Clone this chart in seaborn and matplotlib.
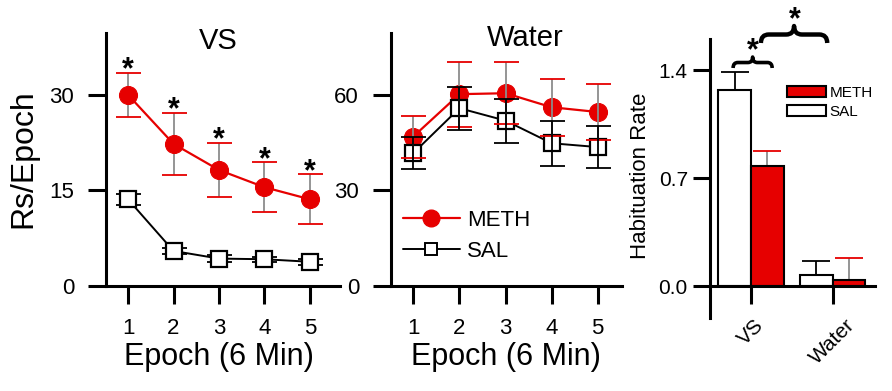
import matplotlib
matplotlib.use("Agg")
import matplotlib.pyplot as plt
import numpy as np
import pandas as pd
import seaborn as sns
from matplotlib.path import Path
from matplotlib.patches import PathPatch, Patch
from matplotlib.lines import Line2D

# ---------------- data ----------------
epochs = [1, 2, 3, 4, 5]
vs_meth = [30.0, 22.3, 18.2, 15.5, 13.6]
vs_meth_sem = [3.5, 4.9, 4.3, 3.9, 3.9]
vs_sal = [13.6, 5.5, 4.3, 4.2, 3.8]
vs_sal_sem = [0.9, 0.5, 0.5, 0.4, 0.5]
water_meth = [46.9, 60.2, 60.5, 56.1, 54.6]
water_meth_sem = [6.6, 10.2, 9.8, 8.9, 8.7]
water_sal = [41.7, 55.8, 51.9, 44.8, 43.6]
water_sal_sem = [5.0, 6.8, 6.9, 7.0, 6.7]

drugs = ["VS", "Water"]
groups = ["SAL", "METH"]
hab_sal = [1.27, 0.07]
hab_sal_sem = [0.12, 0.09]
hab_meth = [0.78, 0.04]
hab_meth_sem = [0.095, 0.14]

vs_ticks = [0, 15, 30]
water_ticks = [0, 30, 60]
hab_ticks = [0.0, 0.7, 1.4]

RED = "#e60000"
GRAY = "#8c8c8c"

sns.set_style("ticks")
plt.rcParams["font.family"] = ["Liberation Sans", "DejaVu Sans"]
plt.rcParams["text.color"] = "black"
plt.rcParams["axes.labelcolor"] = "black"
plt.rcParams["xtick.color"] = "black"
plt.rcParams["ytick.color"] = "black"

fig = plt.figure(figsize=(8.92, 3.91), dpi=100)
ax1 = fig.add_axes([106 / 892, 105 / 391, 234 / 892, 253 / 391])
ax2 = fig.add_axes([391 / 892, 105 / 391, 230.7 / 892, 253 / 391])
ax3 = fig.add_axes([710 / 892, 73 / 391, 165 / 892, 278.7 / 391])


def style_axes(ax, ylen=13, xlen=13, ypad=10, xpad=10, fs=16):
    for s in ["top", "right"]:
        ax.spines[s].set_visible(False)
    for s in ["left", "bottom"]:
        ax.spines[s].set_linewidth(2.2)
        ax.spines[s].set_color("black")
    ax.tick_params(axis="y", direction="out", length=ylen, width=2.2,
                   pad=ypad, labelsize=fs, colors="black")
    ax.tick_params(axis="x", direction="out", length=xlen, width=2.2,
                   pad=xpad, labelsize=fs, colors="black")


def color_caps(caps, color):
    for c in caps:
        c.set_color(color)
        c.set_markeredgecolor(color)
        c.set_markerfacecolor(color)


def line_panel(ax, meth, meth_sem, sal, sal_sem, eb_z):
    dm = pd.DataFrame({"Epoch": epochs, "Rs": meth})
    ds = pd.DataFrame({"Epoch": epochs, "Rs": sal})
    sns.lineplot(data=dm, x="Epoch", y="Rs", ax=ax, color=RED, lw=1.6,
                 marker="o", markersize=13, markeredgecolor=RED,
                 errorbar=None, zorder=3)
    sns.lineplot(data=ds, x="Epoch", y="Rs", ax=ax, color="black", lw=1.4,
                 marker="s", markersize=11, markerfacecolor="white",
                 markeredgecolor="black", markeredgewidth=1.6,
                 errorbar=None, zorder=4)
    _, caps, _ = ax.errorbar(epochs, meth, yerr=meth_sem, fmt="none",
                             ecolor=GRAY, elinewidth=1.3, capsize=9,
                             capthick=1.3, zorder=eb_z)
    color_caps(caps, RED)
    ax.errorbar(epochs, sal, yerr=sal_sem, fmt="none", ecolor="black",
                elinewidth=1.3, capsize=9, capthick=1.3, zorder=eb_z)
    ax.set_xticks(epochs)
    ax.set_xlabel("Epoch (6 Min)", fontsize=22)
    ax.set_ylabel("")


# ---------- panel 1: VS ----------
line_panel(ax1, vs_meth, vs_meth_sem, vs_sal, vs_sal_sem, eb_z=2)
ax1.set_xlim(0.516, 5.66)
ax1.set_ylim(0, 39.7)
ax1.set_yticks(vs_ticks)
style_axes(ax1)
ax1.set_ylabel("Rs/Epoch", fontsize=23)
ax1.yaxis.set_label_coords(-0.29, 0.502)
ax1.xaxis.set_label_coords(0.483, -0.221)
ax1.text(0.479, 0.968, "VS", transform=ax1.transAxes, fontsize=21,
         ha="center", va="center")
for x, m, s in zip(epochs, vs_meth, vs_meth_sem):
    ax1.text(x, m + s + 0.4, "*", fontsize=22, fontweight="bold",
             ha="center", va="center")

# ---------- panel 2: Water ----------
line_panel(ax2, water_meth, water_meth_sem, water_sal, water_sal_sem, eb_z=5)
ax2.set_xlim(0.516, 5.52)
ax2.set_ylim(0, 79.4)
ax2.set_yticks(water_ticks)
style_axes(ax2)
ax2.xaxis.set_label_coords(0.50, -0.221)
ax2.text(0.58, 0.982, "Water", transform=ax2.transAxes, fontsize=21,
         ha="center", va="center")
handles = [
    Line2D([], [], color=RED, lw=1.6, marker="o", markersize=12,
           markeredgecolor=RED),
    Line2D([], [], color="black", lw=1.4, marker="s", markersize=9,
           markerfacecolor="white", markeredgecolor="black",
           markeredgewidth=1.4),
]
ax2.legend(handles, ["METH", "SAL"], loc="center left",
           bbox_to_anchor=(0.05, 0.198), frameon=False, fontsize=16,
           handlelength=2.6, handletextpad=0.3, borderpad=0,
           borderaxespad=0, labelspacing=0.45)

# ---------- panel 3: habituation bars ----------
hab_df = pd.DataFrame({
    "Drug": drugs * 2,
    "Group": ["SAL"] * 2 + ["METH"] * 2,
    "Rate": hab_sal + hab_meth,
})
sns.barplot(data=hab_df, x="Drug", y="Rate", hue="Group", hue_order=groups,
            order=drugs, palette={"SAL": "white", "METH": RED},
            saturation=1, edgecolor="black", linewidth=1.5, errorbar=None,
            legend=False, ax=ax3, zorder=2)
for cont, sems, ec, cc in zip(ax3.containers, [hab_sal_sem, hab_meth_sem],
                              ["black", GRAY], ["black", RED]):
    xs = [p.get_x() + p.get_width() / 2 for p in cont.patches]
    hs = [p.get_height() for p in cont.patches]
    _, caps, _ = ax3.errorbar(xs, hs, yerr=[[0] * len(sems), sems],
                              fmt="none", ecolor=ec, elinewidth=1.3,
                              capsize=10, capthick=1.3, zorder=1)
    color_caps(caps, cc)

ax3.set_xlim(-0.5, 1.52)
ax3.set_ylim(-0.207, 1.599)
ax3.set_yticks(hab_ticks)
ax3.set_yticklabels([f"{t:.1f}" for t in hab_ticks])
style_axes(ax3, ylen=12, xlen=13, ypad=4, xpad=8, fs=15)
ax3.spines["bottom"].set_position(("data", 0))
ax3.set_xlabel("")
for lab in ax3.get_xticklabels():
    lab.set_rotation(45)
    lab.set_ha("center")
    lab.set_fontsize(15)
ax3.set_ylabel("Habituation Rate", fontsize=16)
ax3.yaxis.set_label_coords(-0.357, 0.51)

leg_handles = [Patch(facecolor=RED, edgecolor="black", lw=1.5),
               Patch(facecolor="white", edgecolor="black", lw=1.5)]
ax3.legend(leg_handles, ["METH", "SAL"], loc="center left",
           bbox_to_anchor=(0.465, 0.774), frameon=False, fontsize=11,
           handlelength=2.6, handleheight=0.75, handletextpad=0.2,
           borderpad=0, borderaxespad=0, labelspacing=0.3)


def brace(ax, x0, x1, y0, h, lw):
    xm = (x0 + x1) / 2
    q = (x1 - x0) * 0.12
    ym = y0 + h / 2
    verts = [(x0, y0), (x0, ym), (x0 + q, ym), (xm - q, ym), (xm, ym),
             (xm, y0 + h), (xm, ym), (xm + q, ym), (x1 - q, ym), (x1, ym),
             (x1, y0)]
    codes = [Path.MOVETO, Path.CURVE3, Path.CURVE3, Path.LINETO,
             Path.CURVE3, Path.CURVE3, Path.CURVE3, Path.CURVE3,
             Path.LINETO, Path.CURVE3, Path.CURVE3]
    ax.add_patch(PathPatch(Path(verts, codes), fill=False, lw=lw,
                           edgecolor="black", clip_on=False,
                           capstyle="butt", joinstyle="round"))


brace(ax3, -0.217, 0.261, 1.413, 0.071, 2.6)
brace(ax3, 0.123, 0.935, 1.575, 0.11, 3.2)
ax3.text(0.03, 1.52, "*", fontsize=22, fontweight="bold", ha="center",
         va="center", clip_on=False)
ax3.text(0.543, 1.725, "*", fontsize=22, fontweight="bold", ha="center",
         va="center", clip_on=False)

fig.savefig("out.png", dpi=100)
